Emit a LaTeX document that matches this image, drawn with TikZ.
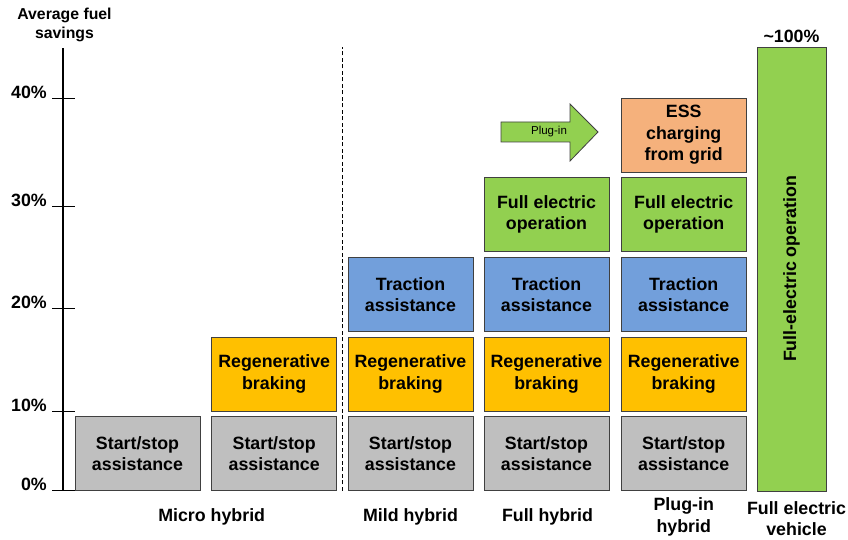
\documentclass[tikz,border=0pt]{standalone}
\usepackage{fontspec}
\setmainfont{Liberation Sans}
\usepackage{tikz}
\usetikzlibrary{arrows.meta,calc}

\definecolor{stopgray}{HTML}{BFBFBF}
\definecolor{regenyellow}{HTML}{FFC000}
\definecolor{tractblue}{HTML}{729FDB}
\definecolor{elecgreen}{HTML}{92D050}
\definecolor{gridorange}{HTML}{F5B17C}
\definecolor{edgegray}{HTML}{404040}

\begin{document}
\begin{tikzpicture}[x=1pt, y=1pt,
  cell/.style={draw=edgegray, line width=0.8pt, minimum width=125pt,
    minimum height=74pt, inner sep=0pt, align=center,
    font=\bfseries\fontsize{17.8}{21.5}\selectfont},
  lbl/.style={align=center, font=\bfseries\fontsize{17.8}{21.5}\selectfont}]

\def\cA{137.5}
\def\cB{274.2}
\def\cC{410.5}
\def\cD{546.5}
\def\cE{683.7}
\def\rA{86.25}
\def\rB{166}
\def\rC{245.5}
\def\rD{325.5}
\def\rE{405}

\useasboundingbox (0,0) rectangle (848,540);

\node[align=center, font=\bfseries\fontsize{15.8}{19.5}\selectfont] (avg) at (64.5,515) {Average fuel\\savings};

\draw[line width=1.2pt] (63,49) -- (63,492);
\draw[line width=1pt] (52,49) -- (75,49);
\draw[line width=1pt] (52,128.5) -- (75,128.5);
\draw[line width=1pt] (52,231) -- (75,231);
\draw[line width=1pt] (52,333.3) -- (75,333.3);
\draw[line width=1pt] (52,441.7) -- (75,441.7);

\node[lbl, inner sep=0pt, anchor=base east] (t0) at (47,49) {0\%};
\node[lbl, inner sep=0pt, anchor=base east] (t10) at (47,128.5) {10\%};
\node[lbl, inner sep=0pt, anchor=base east] (t20) at (47,231) {20\%};
\node[lbl, inner sep=0pt, anchor=base east] (t30) at (47,333.3) {30\%};
\node[lbl, inner sep=0pt, anchor=base east] (t40) at (47,441.7) {40\%};

\draw[line width=0.8pt, dash pattern=on 4pt off 2.5pt] (342.5,49) -- (342.5,493);

\node[cell, fill=stopgray] (stopA) at (\cA,\rA) {Start/stop\\assistance};
\node[cell, fill=stopgray] (stopB) at (\cB,\rA) {Start/stop\\assistance};
\node[cell, fill=stopgray] (stopC) at (\cC,\rA) {Start/stop\\assistance};
\node[cell, fill=stopgray] (stopD) at (\cD,\rA) {Start/stop\\assistance};
\node[cell, fill=stopgray] (stopE) at (\cE,\rA) {Start/stop\\assistance};

\node[cell, fill=regenyellow] (regenB) at (\cB,\rB) {Regenerative\\braking};
\node[cell, fill=regenyellow] (regenC) at (\cC,\rB) {Regenerative\\braking};
\node[cell, fill=regenyellow] (regenD) at (\cD,\rB) {Regenerative\\braking};
\node[cell, fill=regenyellow] (regenE) at (\cE,\rB) {Regenerative\\braking};

\node[cell, fill=tractblue] (tractC) at (\cC,\rC) {Traction\\assistance};
\node[cell, fill=tractblue] (tractD) at (\cD,\rC) {Traction\\assistance};
\node[cell, fill=tractblue] (tractE) at (\cE,\rC) {Traction\\assistance};

\node[cell, fill=elecgreen] (elecD) at (\cD,\rD) {Full electric\\operation};
\node[cell, fill=elecgreen] (elecE) at (\cE,\rD) {Full electric\\operation};

\node[cell, fill=gridorange] (essE) at (\cE,\rE) {ESS\\charging\\from grid};

\node[cell, fill=elecgreen, rotate=90, minimum width=444pt,
  minimum height=69pt] (fev) at (791.5,271) {Full-electric operation};
\node[lbl, anchor=base] (hundred) at (791.5,497) {\textasciitilde100\%};

\draw[draw=edgegray, line width=0.8pt, fill=elecgreen]
  (501,398) -- (570,398) -- (570,379) -- (598,408) -- (570,436)
  -- (570,418) -- (501,418) -- cycle;
\node[font=\fontsize{11.5}{13}\selectfont] (plugin) at (549,408) {Plug-in};

\node[lbl, anchor=base] (micro) at (211.7,18) {Micro hybrid};
\node[lbl, anchor=base] (mild) at (410.5,18) {Mild hybrid};
\node[lbl, anchor=base] (full) at (547.5,18) {Full hybrid};
\node[lbl] (plugh) at (683.7,23) {Plug-in\\hybrid};
\node[lbl] (fevl) at (796.5,21.5) {Full electric\\vehicle};

\end{tikzpicture}
\end{document}
